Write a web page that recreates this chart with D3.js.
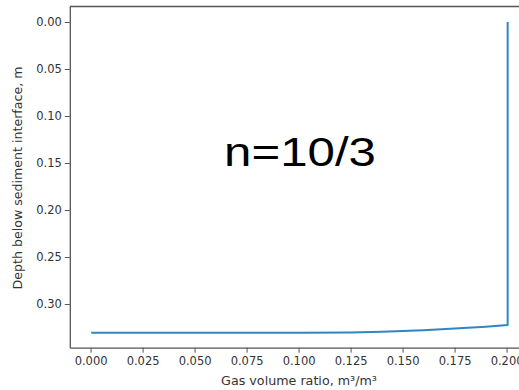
<!DOCTYPE html>
<html>
<head>
<meta charset="utf-8">
<script src="https://cdn.jsdelivr.net/npm/d3@7"></script>
<style>
  html, body { margin: 0; padding: 0; background: #fff; }
  svg { display: block; }
  .tick text { font-family: "DejaVu Sans", sans-serif; font-size: 11.5px; fill: #333; }
</style>
</head>
<body>
<svg id="chart" width="519" height="390"></svg>
<script>
// Gas volume ratio (m³/m³) against depth below the sediment interface (m)
const gasRatio = [0.2005, 0.2005, 0.19, 0.175, 0.16, 0.15, 0.14, 0.125, 0.1, 0.05, 0.0003];
const depth    = [0.0,    0.3223, 0.3242, 0.3262, 0.3279, 0.3288, 0.3296, 0.3303, 0.3305, 0.3305, 0.3305];

const xTicks = [0, 0.025, 0.05, 0.075, 0.1, 0.125, 0.15, 0.175, 0.2];
const yTicks = [0, 0.05, 0.1, 0.15, 0.2, 0.25, 0.3];

const annotation = "n=10/3";
const xLabel = "Gas volume ratio, m³/m³";
const yLabel = "Depth below sediment interface, m";

const SX = 1.23; // horizontal stretch of the annotation

const svg = d3.select("#chart");

const x = d3.scaleLinear().domain([-0.01, 0.21]).range([69.8, 527.4]);
const y = d3.scaleLinear().domain([-0.0165, 0.3465]).range([6.5, 347.7]);

// frame (top and right spines)
svg.append("path")
  .attr("d", `M${x.range()[0]},${y.range()[0]}H${x.range()[1]}V${y.range()[1]}`)
  .attr("fill", "none").attr("stroke", "#555").attr("stroke-width", 1.3);

// x axis
const gx = svg.append("g")
  .attr("transform", `translate(0,${y.range()[1]})`)
  .call(d3.axisBottom(x).tickValues(xTicks).tickFormat(d3.format(".3f"))
        .tickSize(5).tickPadding(4).tickSizeOuter(0));
gx.select(".domain").attr("stroke", "#555").attr("stroke-width", 1.3);
gx.selectAll(".tick line").attr("stroke", "#555");

// y axis
const gy = svg.append("g")
  .attr("transform", `translate(${x.range()[0]},0)`)
  .call(d3.axisLeft(y).tickValues(yTicks).tickFormat(d3.format(".2f"))
        .tickSize(5).tickPadding(3).tickSizeOuter(0));
gy.select(".domain").attr("stroke", "#555").attr("stroke-width", 1.3);
gy.selectAll(".tick line").attr("stroke", "#555");

// profile line
const line = d3.line().x((d, i) => x(gasRatio[i])).y((d, i) => y(depth[i]));
svg.append("path")
  .attr("d", line(gasRatio))
  .attr("fill", "none")
  .attr("stroke", "#2f86c6")
  .attr("stroke-width", 2)
  .attr("stroke-linejoin", "round");

// axis titles
svg.append("text")
  .attr("transform", "translate(299,385)")
  .attr("text-anchor", "middle")
  .attr("font-family", "DejaVu Sans, sans-serif")
  .attr("font-size", 12.7)
  .attr("fill", "#333")
  .text(xLabel);

svg.append("text")
  .attr("transform", "translate(21.5,178) rotate(-90)")
  .attr("text-anchor", "middle")
  .attr("font-family", "DejaVu Sans, sans-serif")
  .attr("font-size", 12.6)
  .attr("fill", "#333")
  .text(yLabel);

// annotation
svg.append("text")
  .attr("transform", `translate(300,166) scale(${SX},1)`)
  .attr("text-anchor", "middle")
  .attr("font-family", "Liberation Sans, Arial, sans-serif")
  .attr("font-size", 40)
  .attr("fill", "#000")
  .text(annotation);
</script>
</body>
</html>
